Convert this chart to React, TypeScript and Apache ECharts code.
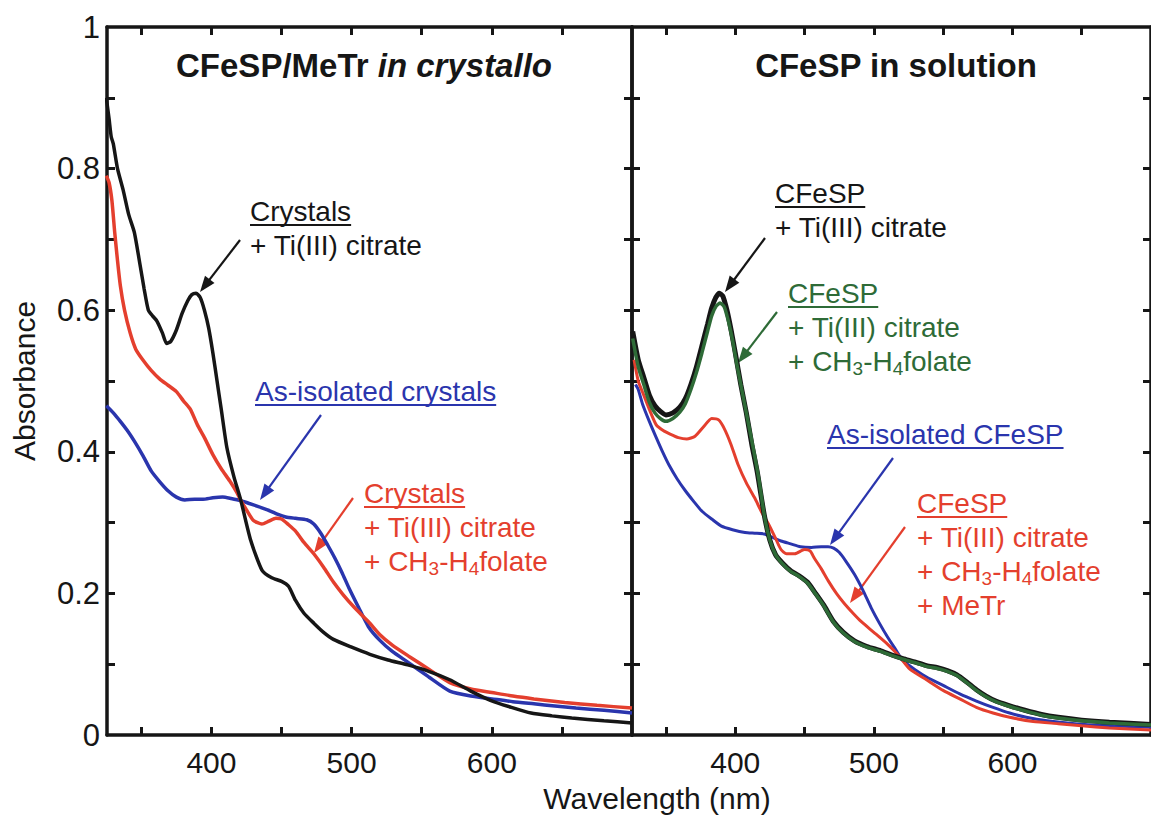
import React, { useEffect, useRef } from "react";
import * as echarts from "echarts";

const FONT_FAMILY = "'Liberation Sans', Arial, Helvetica, sans-serif";

const X_MIN = 325.5;
const X_MAX = 700;
const xTickValues = [350, 400, 450, 500, 550, 600, 650];
const xLabelValues = [400, 500, 600];
const yTickValues = [0.1, 0.2, 0.3, 0.4, 0.5, 0.6, 0.7, 0.8, 0.9];
const yLabelValues = [0, 0.2, 0.4, 0.6, 0.8, 1];

const BLACK = "#161616";
const BLUE = "#2a35ad";
const RED = "#e43f2e";
const GREEN = "#2e6b37";

// ---------- Left panel: CFeSP/MeTr in crystallo ----------
const leftBlackNm = [325, 327, 328.5, 330, 333, 337, 341, 345, 349, 352, 355, 358, 361, 365, 368, 371, 375, 379, 383, 386, 389, 392, 395, 398, 401, 404, 407, 411, 416, 421, 428, 436, 443, 450, 455, 460, 466, 473, 480, 487, 500, 513, 526, 540, 555, 570, 585, 599, 614, 628, 643, 657, 680, 700];
const leftBlackAbs = [0.9, 0.87, 0.845, 0.835, 0.8, 0.77, 0.735, 0.71, 0.665, 0.63, 0.6, 0.592, 0.585, 0.568, 0.553, 0.556, 0.572, 0.595, 0.613, 0.622, 0.624, 0.618, 0.6, 0.575, 0.54, 0.5, 0.46, 0.406, 0.365, 0.331, 0.275, 0.233, 0.222, 0.217, 0.21, 0.19, 0.172, 0.158, 0.145, 0.135, 0.124, 0.114, 0.106, 0.099, 0.09, 0.078, 0.062, 0.049, 0.039, 0.031, 0.027, 0.024, 0.02, 0.017];

const leftBlueNm = [325, 330, 335, 340, 345, 351, 357, 363, 369, 375, 381, 388, 394, 401, 408, 414, 421, 427, 433, 440, 447, 453, 460, 468, 473, 478, 483, 488, 493, 498, 505, 512, 520, 529, 540, 555, 570, 585, 600, 615, 630, 645, 660, 680, 700];
const leftBlueAbs = [0.465, 0.455, 0.443, 0.43, 0.415, 0.395, 0.373, 0.358, 0.345, 0.336, 0.332, 0.333, 0.333, 0.335, 0.336, 0.334, 0.331, 0.327, 0.323, 0.318, 0.312, 0.308, 0.306, 0.304, 0.298, 0.285, 0.268, 0.25, 0.23, 0.208, 0.18, 0.153, 0.134, 0.118, 0.103, 0.082, 0.062, 0.055, 0.051, 0.047, 0.044, 0.041, 0.038, 0.035, 0.031];

const leftRedNm = [325, 327, 329, 331, 333, 335, 338, 342, 346, 351, 357, 363, 369, 375, 380, 385, 390, 395, 401, 407, 413, 418, 421, 425, 430, 436, 441, 446, 450, 455, 460, 466, 473, 480, 487, 494, 502, 512, 520, 529, 541, 555, 570, 585, 600, 615, 630, 652, 675, 700];
const leftRedAbs = [0.79, 0.78, 0.755, 0.71, 0.67, 0.635, 0.6, 0.568, 0.545, 0.53, 0.515, 0.503, 0.494, 0.485, 0.472, 0.46, 0.438, 0.42, 0.396, 0.376, 0.359, 0.343, 0.331, 0.318, 0.303, 0.298, 0.302, 0.306, 0.305, 0.297, 0.288, 0.272, 0.256, 0.237, 0.216, 0.198, 0.18, 0.16, 0.142, 0.127, 0.111, 0.093, 0.074, 0.065, 0.06, 0.055, 0.051, 0.046, 0.042, 0.038];

// ---------- Right panel: CFeSP in solution ----------
const rightBlueNm = [328, 330, 333, 338, 343, 348, 352, 358, 364, 370, 376, 383, 390, 398, 407, 414, 421, 427, 433, 440, 447, 455, 462, 467, 471, 475, 480, 486, 492, 498, 504, 510, 516, 521, 530, 538, 550, 562, 574, 586, 598, 610, 625, 645, 670, 700];
const rightBlueAbs = [0.495, 0.488, 0.468, 0.443, 0.42, 0.398, 0.382, 0.362, 0.345, 0.33, 0.316, 0.305, 0.295, 0.29, 0.286, 0.285, 0.284, 0.279, 0.274, 0.27, 0.266, 0.265, 0.266, 0.266, 0.264, 0.258, 0.245, 0.227, 0.205, 0.18, 0.158, 0.138, 0.12, 0.105, 0.092, 0.082, 0.07, 0.058, 0.048, 0.039, 0.031, 0.025, 0.02, 0.016, 0.013, 0.011];

const rightRedNm = [327, 330, 334, 338, 343, 348, 353, 359, 365, 371, 377, 383, 388, 392, 397, 402, 408, 414, 419, 424, 429, 433, 437, 443, 450, 454, 457, 462, 467, 473, 479, 485, 491, 500, 510, 518, 526, 538, 550, 562, 574, 586, 598, 615, 633, 650, 670, 700];
const rightRedAbs = [0.53, 0.5, 0.48, 0.46, 0.438, 0.43, 0.425, 0.42, 0.418, 0.422, 0.435, 0.447, 0.445, 0.433, 0.41, 0.382, 0.356, 0.335, 0.315, 0.298, 0.278, 0.262, 0.256, 0.256, 0.262, 0.26, 0.25, 0.235, 0.218, 0.2, 0.185, 0.172, 0.16, 0.145, 0.128, 0.112, 0.093, 0.078, 0.063, 0.051, 0.039, 0.031, 0.025, 0.019, 0.016, 0.013, 0.01, 0.007];

const rightBlackNm = [326, 330, 334, 338, 342, 346, 350, 355, 360, 364, 368, 372, 376, 380, 383, 386, 388.5, 391, 394, 397, 400, 404, 408, 412, 416, 421, 425, 429, 434, 440, 446, 452, 458, 464, 471, 478, 486, 495, 505, 513, 521, 530, 538, 546, 553, 560, 567, 574, 581, 588, 597, 609, 621, 633, 650, 670, 700];
const rightBlackAbs = [0.57, 0.53, 0.505, 0.48, 0.465, 0.457, 0.452, 0.455, 0.463, 0.475, 0.495, 0.52, 0.55, 0.58, 0.603, 0.618, 0.624, 0.62, 0.6, 0.572, 0.54, 0.495, 0.455, 0.41, 0.37, 0.31, 0.275, 0.255, 0.243, 0.232, 0.225, 0.216, 0.2, 0.183, 0.16, 0.145, 0.133, 0.125, 0.119, 0.113, 0.108, 0.103, 0.098, 0.095, 0.091, 0.085, 0.075, 0.064, 0.055, 0.048, 0.042, 0.035, 0.029, 0.025, 0.021, 0.018, 0.015];

const rightGreenNm = [326, 330, 334, 338, 342, 346, 350, 355, 360, 364, 368, 372, 376, 380, 383, 386, 389, 392, 395, 398, 401, 405, 409, 413, 417, 421, 425, 429, 434, 440, 446, 452, 458, 464, 471, 478, 486, 495, 505, 513, 521, 530, 538, 546, 553, 560, 567, 574, 581, 588, 597, 609, 621, 633, 650, 670, 700];
const rightGreenAbs = [0.56, 0.52, 0.495, 0.47, 0.455, 0.447, 0.443, 0.447, 0.456, 0.468, 0.488, 0.512, 0.54, 0.57, 0.592, 0.605, 0.61, 0.605, 0.585, 0.558, 0.525, 0.485, 0.445, 0.405, 0.362, 0.31, 0.275, 0.255, 0.242, 0.231, 0.224, 0.215, 0.199, 0.182, 0.159, 0.144, 0.132, 0.124, 0.118, 0.112, 0.107, 0.102, 0.097, 0.094, 0.09, 0.084, 0.074, 0.063, 0.054, 0.047, 0.041, 0.034, 0.028, 0.024, 0.02, 0.017, 0.014];

// ---------- Annotation texts ----------
const TI = "+ Ti(III) citrate";
const FOLATE = "{n|+ CH}{s|3}{n|-H}{s|4}{n|folate}";
const METR = "+ MeTr";

function pairs(xs: number[], ys: number[]) {
  return xs.map((x, i) => [x, ys[i]]);
}

const ANN_SIZE = 28;
const LINE_GAP = 34;

type Ann = { x: number; y: number; color: string; head: string; lines: string[] };
const annotations: Ann[] = [
  { x: 250, y: 211, color: BLACK, head: "Crystals", lines: [TI] },
  { x: 255, y: 391, color: BLUE, head: "As-isolated crystals", lines: [] },
  { x: 364, y: 493, color: RED, head: "Crystals", lines: [TI, FOLATE] },
  { x: 775, y: 193, color: BLACK, head: "CFeSP", lines: [TI] },
  { x: 788, y: 293, color: GREEN, head: "CFeSP", lines: [TI, FOLATE] },
  { x: 827, y: 434, color: BLUE, head: "As-isolated CFeSP", lines: [] },
  { x: 917, y: 503, color: RED, head: "CFeSP", lines: [TI, FOLATE, METR] },
];

type Arrow = { x1: number; y1: number; x2: number; y2: number; color: string };
const arrows: Arrow[] = [
  { x1: 240, y1: 240, x2: 200, y2: 292, color: BLACK },
  { x1: 321, y1: 415, x2: 260, y2: 500, color: BLUE },
  { x1: 353, y1: 498, x2: 314, y2: 553, color: RED },
  { x1: 765, y1: 238, x2: 725, y2: 292, color: BLACK },
  { x1: 777, y1: 312, x2: 738, y2: 363, color: GREEN },
  { x1: 893, y1: 458, x2: 830, y2: 545, color: BLUE },
  { x1: 905, y1: 527, x2: 850, y2: 603, color: RED },
];

let measureCtx: CanvasRenderingContext2D | null = null;
function textWidth(t: string, size: number) {
  if (!measureCtx) measureCtx = document.createElement("canvas").getContext("2d");
  if (!measureCtx) return t.length * size * 0.5;
  measureCtx.font = `${size}px 'Liberation Sans', Arial, sans-serif`;
  return measureCtx.measureText(t).width;
}

function buildGraphics() {
  const els: any[] = [];
  const richFor = (color: string) => ({
    n: { fontSize: ANN_SIZE, fontFamily: FONT_FAMILY, fill: color, lineHeight: 34, verticalAlign: "middle" },
    s: { fontSize: 19, fontFamily: FONT_FAMILY, fill: color, lineHeight: 16, verticalAlign: "bottom" },
  });
  annotations.forEach((a) => {
    els.push({
      type: "text",
      x: a.x,
      y: a.y,
      silent: true,
      style: { text: a.head, fill: a.color, fontSize: ANN_SIZE, fontFamily: FONT_FAMILY, align: "left", verticalAlign: "middle" },
    });
    const w = textWidth(a.head, ANN_SIZE);
    els.push({
      type: "line",
      silent: true,
      shape: { x1: a.x, y1: a.y + 14, x2: a.x + w, y2: a.y + 14 },
      style: { stroke: a.color, lineWidth: 2 },
    });
    a.lines.forEach((ln, i) => {
      const isRich = ln.indexOf("{") >= 0;
      els.push({
        type: "text",
        x: a.x,
        y: a.y + LINE_GAP * (i + 1),
        silent: true,
        style: {
          text: ln,
          fill: a.color,
          fontSize: ANN_SIZE,
          fontFamily: FONT_FAMILY,
          align: "left",
          verticalAlign: "middle",
          rich: isRich ? richFor(a.color) : undefined,
        },
      });
    });
  });
  arrows.forEach((ar) => {
    const dx = ar.x2 - ar.x1;
    const dy = ar.y2 - ar.y1;
    const len = Math.sqrt(dx * dx + dy * dy);
    const ux = dx / len;
    const uy = dy / len;
    const L = 16;
    const W = 6;
    const bx = ar.x2 - ux * L;
    const by = ar.y2 - uy * L;
    els.push({
      type: "line",
      silent: true,
      shape: { x1: ar.x1, y1: ar.y1, x2: bx + ux * 2, y2: by + uy * 2 },
      style: { stroke: ar.color, lineWidth: 2.2 },
    });
    els.push({
      type: "polygon",
      silent: true,
      shape: {
        points: [
          [ar.x2, ar.y2],
          [bx - uy * W, by + ux * W],
          [bx + uy * W, by - ux * W],
        ],
      },
      style: { fill: ar.color },
    });
  });
  // titles
  els.push({
    type: "text",
    x: 364,
    y: 65,
    silent: true,
    style: {
      text: "{b|CFeSP/MeTr }{bi|in crystallo}",
      align: "center",
      verticalAlign: "middle",
      fill: BLACK,
      fontSize: 33,
      fontWeight: "bold",
      fontFamily: FONT_FAMILY,
      rich: {
        b: { fontSize: 33, fontWeight: "bold", fontFamily: FONT_FAMILY, fill: BLACK },
        bi: { fontSize: 33, fontWeight: "bold", fontStyle: "italic", fontFamily: FONT_FAMILY, fill: BLACK },
      },
    },
  });
  els.push({
    type: "text",
    x: 896,
    y: 65,
    silent: true,
    style: {
      text: "CFeSP in solution",
      align: "center",
      verticalAlign: "middle",
      fill: BLACK,
      fontSize: 33,
      fontWeight: "bold",
      fontFamily: FONT_FAMILY,
    },
  });
  // axis names
  els.push({
    type: "text",
    x: 657,
    y: 798,
    silent: true,
    style: { text: "Wavelength (nm)", align: "center", verticalAlign: "middle", fill: BLACK, fontSize: 30, fontFamily: FONT_FAMILY },
  });
  els.push({
    type: "text",
    x: 24,
    y: 381,
    rotation: Math.PI / 2,
    silent: true,
    style: { text: "Absorbance", align: "center", verticalAlign: "middle", fill: BLACK, fontSize: 30, fontFamily: FONT_FAMILY },
  });
  return els;
}

const axisLineStyle = { color: BLACK, width: 3.5 };

function xAxisDef(gridIndex: number, position: string, showLabel: boolean) {
  return {
    type: "value",
    gridIndex,
    position,
    min: X_MIN,
    max: X_MAX,
    axisLine: { show: true, onZero: false, lineStyle: axisLineStyle },
    axisTick: { show: true, inside: true, length: 8, customValues: xTickValues, lineStyle: { color: BLACK, width: 3 } },
    axisLabel: {
      show: showLabel,
      customValues: xLabelValues,
      fontSize: 30,
      color: BLACK,
      fontFamily: FONT_FAMILY,
      margin: 12,
    },
    splitLine: { show: false },
  };
}

function yAxisDef(gridIndex: number, position: string, showLabel: boolean) {
  return {
    type: "value",
    gridIndex,
    position,
    min: 0,
    max: 1,
    axisLine: { show: true, onZero: false, lineStyle: axisLineStyle },
    axisTick: { show: true, inside: true, length: 8, customValues: yTickValues, lineStyle: { color: BLACK, width: 3 } },
    axisLabel: {
      show: showLabel,
      customValues: yLabelValues,
      fontSize: 31,
      color: BLACK,
      fontFamily: FONT_FAMILY,
      margin: 7,
    },
    splitLine: { show: false },
  };
}

function lineSeries(xi: number, yi: number, xs: number[], ys: number[], color: string, width: number) {
  return {
    type: "line",
    xAxisIndex: xi,
    yAxisIndex: yi,
    data: pairs(xs, ys),
    showSymbol: false,
    symbol: "none",
    smooth: 0.2,
    silent: true,
    lineStyle: { color, width },
  };
}

export default function App() {
  const ref = useRef<HTMLDivElement>(null);
  useEffect(() => {
    document.body.style.margin = "0";
    document.body.style.overflow = "hidden";
    if (!ref.current) return;
    const chart = echarts.init(ref.current, undefined, { renderer: "svg" });
    chart.setOption({
      animation: false,
      backgroundColor: "#ffffff",
      grid: [
        { left: 107, top: 27, width: 525, height: 708 },
        { left: 632, top: 27, width: 521, height: 708 },
      ],
      xAxis: [
        xAxisDef(0, "bottom", true),
        xAxisDef(0, "top", false),
        xAxisDef(1, "bottom", true),
        xAxisDef(1, "top", false),
      ],
      yAxis: [
        yAxisDef(0, "left", true),
        yAxisDef(0, "right", false),
        yAxisDef(1, "left", false),
        yAxisDef(1, "right", false),
      ],
      series: [
        lineSeries(0, 0, leftBlueNm, leftBlueAbs, BLUE, 3.5),
        lineSeries(0, 0, leftRedNm, leftRedAbs, RED, 3.5),
        lineSeries(0, 0, leftBlackNm, leftBlackAbs, BLACK, 3.5),
        lineSeries(2, 2, rightBlueNm, rightBlueAbs, BLUE, 3),
        lineSeries(2, 2, rightRedNm, rightRedAbs, RED, 3),
        lineSeries(2, 2, rightBlackNm, rightBlackAbs, BLACK, 5),
        lineSeries(2, 2, rightGreenNm, rightGreenAbs, GREEN, 3.5),
      ],
      graphic: buildGraphics(),
    });
    return () => chart.dispose();
  }, []);
  return <div ref={ref} style={{ position: "absolute", left: 0, top: 0, width: 1151, height: 815 }} />;
}
